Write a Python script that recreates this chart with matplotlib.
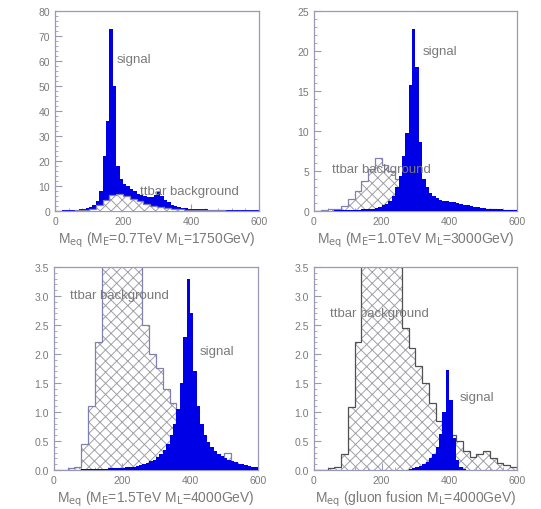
import numpy as np
import matplotlib
matplotlib.use("Agg")
import matplotlib.pyplot as plt
from matplotlib.ticker import MultipleLocator

plt.rcParams["font.family"] = ["Liberation Sans", "DejaVu Sans"]
plt.rcParams["hatch.linewidth"] = 0.7

# Bin edges: signal in 10 GeV bins, ttbar background in 20 GeV bins
sig_edges = np.arange(0, 610, 10)
bkg_edges = np.arange(0, 620, 20)

# Panel 1: M_E=0.7TeV M_L=1750GeV
sig1 = [0.2, 0.2, 0.3, 0.3, 0.4, 0.5, 0.6, 0.8, 1.0, 1.3,
        1.8, 2.5, 4, 8, 22, 36, 73, 50, 18, 13,
        11, 10, 9, 8, 7, 6.5, 6, 5.5, 5.5, 6.5,
        7.5, 6, 4.5, 3.5, 2.5, 2, 1.6, 1.3, 1.1, 1.0,
        0.9, 0.8, 0.8, 0.7, 0.7, 0.6, 0.6, 0.6, 0.5, 0.5,
        0.5, 0.5, 0.4, 0.4, 0.4, 0.4, 0.3, 0.3, 0.3, 0.3]
bkg1 = [0.1, 0.1, 0.2, 0.3, 0.5, 1.0, 2.5, 4.5, 6.5, 7.0,
        6.0, 5.0, 4.0, 3.0, 2.2, 1.6, 1.2, 0.9, 0.7, 0.6,
        0.5, 0.4, 0.35, 0.3, 0.25, 0.2, 0.2, 0.15, 0.1, 0.1]

# Panel 2: M_E=1.0TeV M_L=3000GeV
sig2 = [0.05, 0.05, 0.05, 0.05, 0.05, 0.05, 0.08, 0.1, 0.1, 0.12,
        0.12, 0.15, 0.15, 0.18, 0.2, 0.2, 0.25, 0.3, 0.4, 0.5,
        0.7, 0.9, 1.3, 1.9, 3.0, 4.4, 6.9, 9.8, 15.7, 22.8,
        18, 8.6, 4.0, 3.0, 2.3, 1.9, 1.6, 1.4, 1.3, 1.2,
        1.15, 1.1, 1.0, 0.9, 0.8, 0.7, 0.6, 0.5, 0.45, 0.4,
        0.35, 0.3, 0.28, 0.25, 0.22, 0.2, 0.18, 0.16, 0.15, 0.14]
bkg2 = [0.05, 0.1, 0.2, 0.3, 0.6, 1.5, 2.5, 3.8, 5.2, 6.6,
        5.8, 5.0, 4.0, 3.0, 2.2, 1.6, 1.2, 1.0, 0.8, 0.7,
        0.6, 0.5, 0.4, 0.35, 0.3, 0.25, 0.2, 0.15, 0.1, 0.1]

# Panel 3: M_E=1.5TeV M_L=4000GeV
sig3 = [0, 0, 0, 0, 0, 0, 0, 0, 0.01, 0.01,
        0.01, 0.01, 0.02, 0.02, 0.02, 0.02, 0.03, 0.03, 0.03, 0.03,
        0.04, 0.05, 0.05, 0.06, 0.07, 0.08, 0.1, 0.12, 0.15, 0.18,
        0.22, 0.27, 0.35, 0.45, 0.6, 0.8, 1.05, 1.5, 2.3, 3.3,
        2.7, 1.7, 1.1, 0.8, 0.6, 0.48, 0.4, 0.33, 0.28, 0.24,
        0.2, 0.17, 0.15, 0.13, 0.11, 0.1, 0.08, 0.07, 0.06, 0.05]
bkg3 = [0, 0, 0.03, 0.05, 0.45, 1.1, 2.2, 4.5, 5.5, 6.0,
        6.0, 5.5, 4.0, 2.5, 2.0, 1.75, 1.4, 1.15, 0.8, 0.6,
        0.4, 0.35, 0.3, 0.25, 0.22, 0.3, 0.12, 0.08, 0.05, 0.04]

# Panel 4: gluon fusion M_L=4000GeV
sig4 = [0, 0, 0, 0, 0, 0, 0, 0, 0, 0,
        0, 0, 0, 0, 0, 0, 0, 0, 0, 0,
        0, 0, 0, 0, 0, 0, 0, 0, 0.02, 0.03,
        0.05, 0.07, 0.1, 0.14, 0.2, 0.28, 0.4, 0.62, 1.0, 1.72,
        1.2, 0.55, 0.18, 0.06, 0.02, 0, 0, 0, 0, 0,
        0, 0, 0, 0, 0, 0, 0, 0, 0, 0]
bkg4 = [0, 0, 0.03, 0.05, 0.28, 1.08, 2.2, 4.5, 5.5, 6.0,
        6.0, 5.5, 4.5, 2.45, 2.1, 1.8, 1.5, 1.15, 0.85, 0.7,
        0.6, 0.5, 0.33, 0.22, 0.27, 0.33, 0.2, 0.12, 0.08, 0.06]

signals = [sig1, sig2, sig3, sig4]
backgrounds = [bkg1, bkg2, bkg3, bkg4]
xlabels = [r"M$_\mathrm{eq}$ (M$_\mathrm{E}$=0.7TeV M$_\mathrm{L}$=1750GeV)",
           r"M$_\mathrm{eq}$ (M$_\mathrm{E}$=1.0TeV M$_\mathrm{L}$=3000GeV)",
           r"M$_\mathrm{eq}$ (M$_\mathrm{E}$=1.5TeV M$_\mathrm{L}$=4000GeV)",
           r"M$_\mathrm{eq}$ (gluon fusion M$_\mathrm{L}$=4000GeV)"]
ymax = [80, 25, 3.5, 3.5]
ymajor = [10, 5, 0.5, 0.5]
yminor = [2, 1, 0.1, 0.1]
sig_text = [(182, 61), (322, 20), (429, 2.05), (432, 1.25)]
bkg_text = [(250, 8), (52, 5.3), (47, 3.02), (47, 2.7)]

grey = "#7a7a7a"
frame = "#9a9ab8"
blue = "#0000e6"
outline = ["#8080b0", "#8080b0", "#8080b0", "#505050"]

fig = plt.figure(figsize=(5.41, 5.10), dpi=100)
positions = [[0.1017, 0.5843, 0.377, 0.392],
             [0.5804, 0.5843, 0.375, 0.392],
             [0.0998, 0.0765, 0.377, 0.398],
             [0.5804, 0.0765, 0.375, 0.398]]

for i in range(4):
    ax = fig.add_axes(positions[i])
    bkg = np.array(backgrounds[i])
    sig = np.array(signals[i])

    # panel 1 has the background hatch on top of the signal
    if i == 0:
        z_sig, z_bkg = 2, 3
        face = "white"
    else:
        z_sig, z_bkg = 3, 2
        face = "none"

    ax.stairs(bkg, bkg_edges, fill=True, facecolor=face, edgecolor="#a0a0a8",
              hatch="xxx", linewidth=0, zorder=z_bkg)
    ax.stairs(bkg, bkg_edges, color=outline[i], linewidth=0.9, zorder=z_bkg)
    ax.stairs(sig, sig_edges, fill=True, color=blue, linewidth=0, zorder=z_sig)

    ax.set_xlim(0, 600)
    ax.set_ylim(0, ymax[i])
    ax.xaxis.set_major_locator(MultipleLocator(200))
    ax.xaxis.set_minor_locator(MultipleLocator(40))
    ax.yaxis.set_major_locator(MultipleLocator(ymajor[i]))
    ax.yaxis.set_minor_locator(MultipleLocator(yminor[i]))
    ax.tick_params(which="both", direction="in", colors=frame, labelcolor=grey,
                   labelsize=7.5, top=False, right=False)
    ax.tick_params(which="major", length=5)
    ax.tick_params(which="minor", length=2.5)
    for s in ax.spines.values():
        s.set_color(frame)
        s.set_linewidth(0.9)

    ax.set_xlabel(xlabels[i], fontsize=10, color=grey, labelpad=3)
    ax.text(sig_text[i][0], sig_text[i][1], "signal", fontsize=9.5,
            color=grey, va="center", zorder=5)
    ax.text(bkg_text[i][0], bkg_text[i][1], "ttbar background", fontsize=9.5,
            color=grey, va="center", zorder=5)

fig.savefig("out.png", dpi=100)
